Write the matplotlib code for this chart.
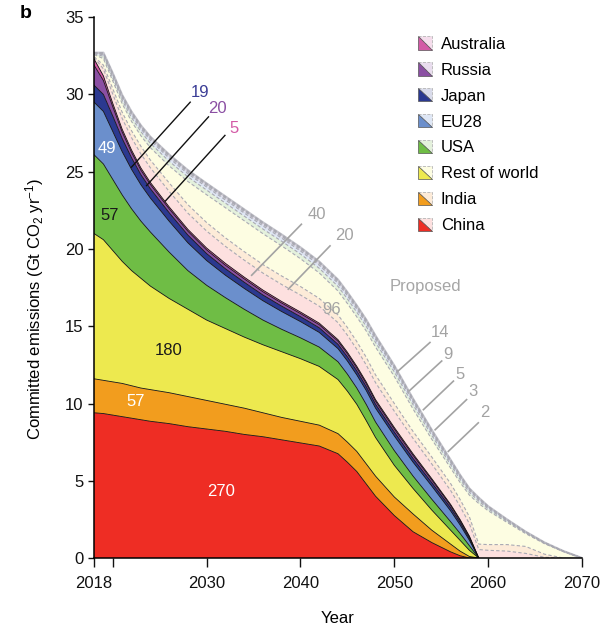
import numpy as np
import matplotlib
matplotlib.use("Agg")
import matplotlib.pyplot as plt
from matplotlib.legend_handler import HandlerBase
from matplotlib.patches import Polygon

plt.rcParams['font.family'] = ['Liberation Sans', 'DejaVu Sans']
plt.rcParams['mathtext.default'] = 'regular'

# ---- data (Gt CO2 per year) ----
years = [2018, 2019, 2020, 2021, 2022, 2023, 2024, 2026, 2028, 2030,
         2032, 2034, 2036, 2038, 2040, 2042, 2044, 2045, 2046, 2047,
         2048, 2050, 2052, 2054, 2056, 2057, 2058, 2059, 2060, 2062,
         2064, 2066, 2068, 2070]

# existing infrastructure
china = [9.4, 9.35, 9.25, 9.15, 9.05, 8.95, 8.85, 8.7, 8.5, 8.35,
         8.2, 8.0, 7.85, 7.65, 7.45, 7.25, 6.75, 6.2, 5.6, 4.8,
         4.0, 2.75, 1.7, 1.0, 0.4, 0.15, 0, 0, 0, 0, 0, 0, 0, 0]
india = [2.2, 2.15, 2.15, 2.15, 2.1, 2.05, 2.05, 2.0, 1.95, 1.85,
         1.75, 1.7, 1.55, 1.45, 1.4, 1.35, 1.3, 1.3, 1.3, 1.3,
         1.3, 1.2, 1.15, 0.8, 0.5, 0.3, 0.1, 0, 0, 0, 0, 0, 0, 0]
rest_of_world = [9.4, 9.1, 8.5, 7.9, 7.45, 7.1, 6.7, 6.1, 5.65, 5.2,
                 4.9, 4.6, 4.4, 4.25, 4.05, 3.8, 3.5, 3.3, 3.05, 2.8,
                 2.5, 2.05, 1.65, 1.3, 0.9, 0.7, 0.4, 0, 0, 0, 0, 0, 0, 0]
usa = [5.1, 4.9, 4.6, 4.3, 4.0, 3.7, 3.5, 3.0, 2.5, 2.25,
       2.0, 1.8, 1.6, 1.45, 1.35, 1.25, 1.15, 1.1, 1.05, 1.05,
       1.0, 0.95, 0.8, 0.7, 0.55, 0.45, 0.3, 0, 0, 0, 0, 0, 0, 0]
eu28 = [3.4, 3.4, 3.1, 2.8, 2.55, 2.35, 2.2, 2.0, 1.8, 1.6,
        1.45, 1.35, 1.25, 1.15, 1.05, 0.95, 0.85, 0.85, 0.85, 0.9,
        0.9, 0.95, 0.9, 0.85, 0.7, 0.55, 0.35, 0, 0, 0, 0, 0, 0, 0]
japan = [1.1, 1.1, 1.0, 0.85, 0.75, 0.65, 0.6, 0.55, 0.5, 0.45,
         0.42, 0.4, 0.37, 0.35, 0.32, 0.3, 0.28, 0.27, 0.26, 0.25,
         0.25, 0.25, 0.24, 0.22, 0.2, 0.17, 0.12, 0, 0, 0, 0, 0, 0, 0]
russia = [1.3, 0.9, 0.6, 0.42, 0.35, 0.3, 0.28, 0.26, 0.25, 0.24,
          0.23, 0.22, 0.21, 0.2, 0.2, 0.2, 0.2, 0.2, 0.2, 0.2,
          0.2, 0.2, 0.2, 0.18, 0.15, 0.12, 0.1, 0, 0, 0, 0, 0, 0, 0]
australia = [0.4, 0.3, 0.22, 0.18, 0.15, 0.14, 0.13, 0.12, 0.12, 0.12,
             0.12, 0.11, 0.11, 0.1, 0.1, 0.1, 0.1, 0.1, 0.1, 0.1,
             0.1, 0.1, 0.1, 0.08, 0.07, 0.06, 0.05, 0, 0, 0, 0, 0, 0, 0]

# proposed infrastructure
china_p = [0.1, 0.45, 0.6, 0.7, 0.8, 0.9, 0.95, 1.0, 1.05, 1.1,
           1.1, 1.1, 1.1, 1.1, 1.1, 1.1, 1.1, 1.1, 1.1, 1.1,
           1.1, 1.05, 1.0, 0.95, 0.9, 0.85, 0.8, 0.55, 0.5, 0.45,
           0.3, 0.05, 0, 0]
india_p = [0.05, 0.25, 0.35, 0.4, 0.45, 0.5, 0.5, 0.55, 0.55, 0.55,
           0.55, 0.55, 0.55, 0.55, 0.55, 0.5, 0.5, 0.5, 0.5, 0.5,
           0.5, 0.5, 0.45, 0.45, 0.45, 0.45, 0.45, 0.35, 0.37, 0.42,
           0.45, 0.2, 0, 0]
rest_of_world_p = [0.13, 0.42, 0.5, 0.55, 0.6, 0.68, 0.8, 1.1, 1.5, 1.8,
                   1.95, 2.0, 2.0, 1.95, 1.8, 1.65, 1.55, 1.55, 1.6, 1.7,
                   1.8, 1.75, 1.45, 1.15, 1.0, 1.1, 1.4, 2.63, 2.19, 1.44,
                   0.83, 0.68, 0.42, 0]
usa_p = [0.05, 0.15, 0.2, 0.22, 0.25, 0.27, 0.28, 0.3, 0.3, 0.3,
         0.3, 0.3, 0.3, 0.3, 0.3, 0.3, 0.3, 0.3, 0.3, 0.3,
         0.3, 0.3, 0.28, 0.25, 0.22, 0.2, 0.18, 0.15, 0.12, 0.08,
         0.05, 0.03, 0.01, 0]
eu28_p = [0.03, 0.1, 0.13, 0.15, 0.17, 0.18, 0.19, 0.2, 0.2, 0.2,
          0.2, 0.2, 0.2, 0.2, 0.2, 0.2, 0.2, 0.2, 0.2, 0.2,
          0.2, 0.2, 0.18, 0.16, 0.14, 0.13, 0.12, 0.1, 0.08, 0.05,
          0.03, 0.02, 0.01, 0]
japan_p = [0.02, 0.06, 0.08, 0.09, 0.1, 0.1, 0.11, 0.11, 0.11, 0.11,
           0.11, 0.11, 0.11, 0.11, 0.11, 0.11, 0.11, 0.11, 0.11, 0.11,
           0.11, 0.1, 0.1, 0.09, 0.08, 0.07, 0.06, 0.05, 0.04, 0.03,
           0.02, 0.01, 0.005, 0]
russia_p = [0.01, 0.04, 0.05, 0.06, 0.06, 0.07, 0.07, 0.07, 0.07, 0.07,
            0.07, 0.07, 0.07, 0.07, 0.07, 0.07, 0.07, 0.07, 0.07, 0.07,
            0.07, 0.06, 0.06, 0.06, 0.05, 0.05, 0.04, 0.04, 0.03, 0.02,
            0.01, 0.01, 0.005, 0]
australia_p = [0.01, 0.03, 0.04, 0.04, 0.05, 0.05, 0.05, 0.05, 0.05, 0.05,
               0.05, 0.05, 0.05, 0.05, 0.05, 0.05, 0.05, 0.05, 0.05, 0.05,
               0.05, 0.04, 0.04, 0.04, 0.04, 0.03, 0.03, 0.03, 0.02, 0.01,
               0.01, 0.005, 0.002, 0]

regions = ['China', 'India', 'Rest of world', 'USA', 'EU28', 'Japan', 'Russia', 'Australia']
existing = [china, india, rest_of_world, usa, eu28, japan, russia, australia]
proposed = [china_p, india_p, rest_of_world_p, usa_p, eu28_p, japan_p, russia_p, australia_p]
dark_colors = ['#ee2d24', '#f29d1e', '#ede94f', '#6fbd45', '#6b8fcc', '#2b3990', '#8b4fa3', '#d35aa6']
pale_colors = ['#fde0df', '#fdebd8', '#fdfde2', '#e4f1dc', '#dfe7f5', '#d9dbea', '#e9ddee', '#f5ddec']


class TriangleKey:
    def __init__(self, dark, pale):
        self.dark = dark
        self.pale = pale


class TriangleHandler(HandlerBase):
    def create_artists(self, legend, orig_handle, xdescent, ydescent,
                       width, height, fontsize, trans):
        x0, y0 = -xdescent, -ydescent
        pale = Polygon([[x0, y0 + height], [x0 + width, y0 + height], [x0 + width, y0]],
                       closed=True, facecolor=orig_handle.pale, edgecolor='#b5b5b5',
                       lw=0.6, ls='--', transform=trans)
        dark = Polygon([[x0, y0 + height], [x0, y0], [x0 + width, y0]],
                       closed=True, facecolor=orig_handle.dark, edgecolor='#555555',
                       lw=0.5, transform=trans)
        return [pale, dark]


fig = plt.figure(figsize=(6, 6.27), dpi=100)
ax = fig.add_axes([0.1567, 0.110, 0.8133, 0.8626])

x = np.array(years, dtype=float)
alive = x <= 2059

# existing stack
base = np.zeros(len(x))
for vals, col in zip(existing, dark_colors):
    top = base + np.array(vals)
    ax.fill_between(x[alive], base[alive], top[alive], facecolor=col, lw=0, zorder=2)
    ax.plot(x[alive], top[alive], color='#111111', lw=0.6, zorder=3)
    base = top

# proposed stack on top of existing
for vals, col in zip(proposed, pale_colors):
    top = base + np.array(vals)
    ax.fill_between(x, base, top, facecolor=col, lw=0, zorder=1)
    ax.plot(x, top, color='#a9a9b2', lw=0.8, ls=(0, (3, 2)), zorder=1.5)
    base = top
ax.plot(x, base, color='#c4c4cc', lw=1.6, zorder=1.2)

# callouts for existing
for txt, tx, ty, lx0, ly0, lx1, ly1, col in [
        ('19', 2029.3, 30.15, 2028.25, 29.5, 2022.0, 25.3, '#3b3d96'),
        ('20', 2031.2, 29.1, 2030.2, 28.55, 2023.6, 24.1, '#8b4fa3'),
        ('5', 2032.9, 27.8, 2031.95, 27.35, 2025.6, 23.1, '#d35aa6')]:
    ax.plot([lx0, lx1], [ly0, ly1], color='#111111', lw=1.0, zorder=4)
    ax.text(tx, ty, txt, color=col, fontsize=12, ha='center', va='center', zorder=5)

# callouts for proposed
grey = '#a3a3a3'
for txt, tx, ty, lx0, ly0, lx1, ly1 in [
        ('40', 2041.7, 22.25, 2040.1, 21.6, 2034.8, 18.3),
        ('20', 2044.7, 20.85, 2043.15, 20.2, 2038.7, 17.4),
        ('14', 2054.9, 14.6, 2053.8, 13.95, 2050.4, 12.1),
        ('9', 2055.75, 13.2, 2055.05, 12.75, 2051.65, 10.85),
        ('5', 2057.0, 11.9, 2056.3, 11.45, 2053.1, 9.6),
        ('3', 2058.4, 10.75, 2057.7, 10.25, 2054.35, 8.3),
        ('2', 2059.65, 9.4, 2058.95, 8.75, 2055.75, 6.9)]:
    ax.plot([lx0, lx1], [ly0, ly1], color=grey, lw=1.2, zorder=4)
    ax.text(tx, ty, txt, color=grey, fontsize=12, ha='center', va='center', zorder=5)
ax.text(2043.3, 16.1, '96', color=grey, fontsize=12, ha='center', va='center', zorder=5)
ax.text(2053.3, 17.6, 'Proposed', color='#a6a6a6', fontsize=12, ha='center', va='center')

# labels inside areas
for txt, tx, ty, col in [('49', 2019.4, 26.5, 'white'), ('57', 2019.7, 22.15, '#1a1a1a'),
                         ('180', 2025.9, 13.45, '#1a1a1a'), ('57', 2022.4, 10.15, 'white'),
                         ('270', 2031.5, 4.3, 'white')]:
    ax.text(tx, ty, txt, color=col, fontsize=12, ha='center', va='center', zorder=5)

ax.set_xlim(2018, 2070)
ax.set_ylim(0, 35)
ax.set_xticks([2018, 2020, 2030, 2040, 2050, 2060, 2070])
ax.set_xticklabels(['2018', '', '2030', '2040', '2050', '2060', '2070'])
ax.set_yticks(range(0, 36, 5))
ax.tick_params(direction='out', width=1, labelsize=12, colors='#111111')
ax.tick_params(axis='x', length=6.5, pad=6.5)
ax.tick_params(axis='y', length=4, pad=3.5)
for side in ['top', 'right']:
    ax.spines[side].set_visible(False)
for side in ['left', 'bottom']:
    ax.spines[side].set_linewidth(1.1)
    ax.spines[side].set_zorder(6)
ax.set_xlabel('Year', fontsize=12, labelpad=14)
ax.set_ylabel('Committed emissions (Gt CO$_2$ yr$^{-1}$)', fontsize=12)
ax.yaxis.set_label_coords(-0.098, 0.46)

keys = [TriangleKey(d, p) for d, p in zip(dark_colors, pale_colors)][::-1]
leg = ax.legend(keys, regions[::-1], handler_map={TriangleKey: TriangleHandler()},
                loc='upper left', bbox_to_anchor=(0.697, 0.942), bbox_transform=fig.transFigure,
                frameon=False, fontsize=12, handlelength=0.85, handleheight=0.85,
                handletextpad=0.5, labelspacing=0.63, borderpad=0, borderaxespad=0)

fig.text(0.033, 0.979, 'b', fontsize=14, fontweight='bold', ha='left', va='center')

fig.savefig('out.png', dpi=100)
